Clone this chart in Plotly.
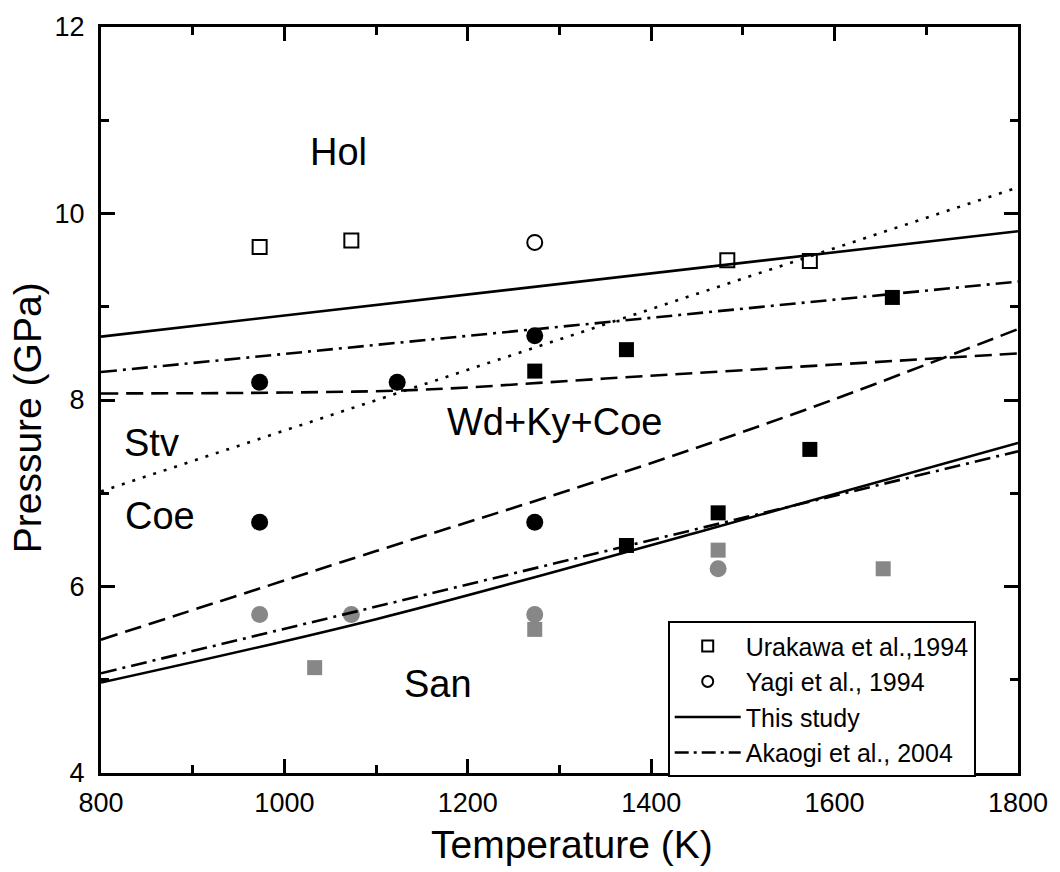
import plotly.graph_objects as go

# ---- data ----
# Phase boundaries (temperature K, pressure GPa)
this_hol_T = [800, 1800]
this_hol_P = [8.68, 9.81]
this_san_T = [800, 1100, 1450, 1800]
this_san_P = [4.97, 5.65, 6.58, 7.54]
akaogi_hol_T = [800, 1800]
akaogi_hol_P = [8.30, 9.27]
akaogi_san_T = [800, 1800]
akaogi_san_P = [5.07, 7.45]
coe_stv_T = [800, 1800]
coe_stv_P = [7.02, 10.28]
dash_flat_T = [800, 1000, 1150, 1350, 1600, 1800]
dash_flat_P = [8.07, 8.08, 8.11, 8.23, 8.38, 8.50]
dash_steep_T = [800, 1100, 1350, 1575, 1800]
dash_steep_P = [5.43, 6.38, 7.16, 7.92, 8.76]

# Experimental points
urakawa_T = [973, 1073, 1483, 1573]
urakawa_P = [9.64, 9.71, 9.50, 9.49]
yagi_T = [1273]
yagi_P = [9.69]
black_circ_T = [973, 1123, 1273, 973, 1273]
black_circ_P = [8.19, 8.19, 8.69, 6.69, 6.69]
black_sq_T = [1273, 1373, 1663, 1573, 1473, 1373]
black_sq_P = [8.31, 8.54, 9.10, 7.47, 6.79, 6.44]
gray_circ_T = [973, 1073, 1273, 1473]
gray_circ_P = [5.70, 5.70, 5.70, 6.19]
gray_sq_T = [1033, 1273, 1473, 1653]
gray_sq_P = [5.13, 5.54, 6.39, 6.19]

labels = ["Hol", "Stv", "Coe", "Wd+Ky+Coe", "San"]
label_T = [1059, 855, 864, 1294, 1168]
label_P = [10.66, 7.54, 6.76, 7.76, 4.95]

x_title = "Temperature (K)"
y_title = "Pressure (GPa)"
legend_names = ["Urakawa et al.,1994", "Yagi et al., 1994", "This study", "Akaogi et al., 2004"]

FONT = "Liberation Sans, Arial, sans-serif"
GRAY = "#878787"
LW = 2.6

fig = go.Figure()

def line(T, P, dash, shape="linear"):
    fig.add_trace(go.Scatter(x=T, y=P, mode="lines", showlegend=False,
                             line=dict(color="black", width=LW, dash=dash, shape=shape,
                                       smoothing=1.0 if shape == "spline" else None)))

DOT = "3px,8px"
DASH = "17px,8px"
DASHDOT = "16px,6px,3px,6px"

line(coe_stv_T, coe_stv_P, DOT)
line(dash_flat_T, dash_flat_P, DASH, shape="spline")
line(dash_steep_T, dash_steep_P, DASH, shape="spline")

# points (not in legend)
def pts(T, P, symbol, color, size):
    fig.add_trace(go.Scatter(x=T, y=P, mode="markers", showlegend=False,
                             marker=dict(symbol=symbol, size=size, color=color,
                                         line=dict(width=0))))

pts(gray_circ_T, gray_circ_P, "circle", GRAY, 17)
pts(gray_sq_T, gray_sq_P, "square", GRAY, 15)
pts(black_circ_T, black_circ_P, "circle", "black", 17)
pts(black_sq_T, black_sq_P, "square", "black", 15)

line(this_hol_T, this_hol_P, "solid")
line(this_san_T, this_san_P, "solid", shape="spline")
line(akaogi_hol_T, akaogi_hol_P, DASHDOT)
line(akaogi_san_T, akaogi_san_P, DASHDOT)

fig.add_trace(go.Scatter(x=urakawa_T, y=urakawa_P, mode="markers", showlegend=False,
                         marker=dict(symbol="square-open", size=14, color="black",
                                     line=dict(width=2))))
fig.add_trace(go.Scatter(x=yagi_T, y=yagi_P, mode="markers", showlegend=False,
                         marker=dict(symbol="circle-open", size=15, color="black",
                                     line=dict(width=2))))

# legend entries
fig.add_trace(go.Scatter(x=[None], y=[None], mode="markers", name=legend_names[0],
                         marker=dict(symbol="square-open", size=11, color="black",
                                     line=dict(width=2))))
fig.add_trace(go.Scatter(x=[None], y=[None], mode="markers", name=legend_names[1],
                         marker=dict(symbol="circle-open", size=11, color="black",
                                     line=dict(width=2))))
fig.add_trace(go.Scatter(x=[None], y=[None], mode="lines", name=legend_names[2],
                         line=dict(color="black", width=LW, dash="solid")))
fig.add_trace(go.Scatter(x=[None], y=[None], mode="lines", name=legend_names[3],
                         line=dict(color="black", width=LW, dash="14px,5px,3px,5px")))

for t, x, y in zip(labels, label_T, label_P):
    fig.add_annotation(x=x, y=y, text=t, showarrow=False,
                       font=dict(family=FONT, size=38, color="black"))

# axis titles
fig.add_annotation(xref="paper", yref="paper", x=0.514, y=-0.0957, text=x_title,
                   showarrow=False, xanchor="center", yanchor="middle",
                   font=dict(family=FONT, size=39, color="black"))
fig.add_annotation(xref="paper", yref="paper", x=-0.0792, y=0.476, text=y_title,
                   showarrow=False, xanchor="center", yanchor="middle", textangle=-90,
                   font=dict(family=FONT, size=39, color="black"))

axis_common = dict(
    showline=True, linecolor="black", linewidth=3, mirror="allticks",
    ticks="inside", ticklen=14, tickwidth=3, tickcolor="black",
    showgrid=False, zeroline=False,
    tickfont=dict(family=FONT, size=27, color="black"),
)

fig.update_xaxes(range=[800, 1800], tickvals=[800, 1000, 1200, 1400, 1600, 1800],
                 minor=dict(ticks="inside", ticklen=8, tickwidth=3, tickcolor="black", dtick=100),
                 ticklabelstandoff=4,
                 **axis_common)
fig.update_yaxes(range=[4, 12], tickvals=[4, 6, 8, 10, 12],
                 minor=dict(ticks="inside", ticklen=8, tickwidth=3, tickcolor="black", dtick=1),
                 ticklabelstandoff=8,
                 **axis_common)

fig.update_layout(
    width=1060, height=872,
    margin=dict(l=101, r=37, t=21, b=99),
    paper_bgcolor="white", plot_bgcolor="white",
    font=dict(family=FONT, color="black"),
    legend=dict(x=0.618, y=0.2035, xanchor="left", yanchor="top",
                bgcolor="white", bordercolor="black", borderwidth=2,
                font=dict(family=FONT, size=25, color="black"),
                itemwidth=66, tracegroupgap=0, traceorder="normal"),
)

fig.write_html("out.html")
